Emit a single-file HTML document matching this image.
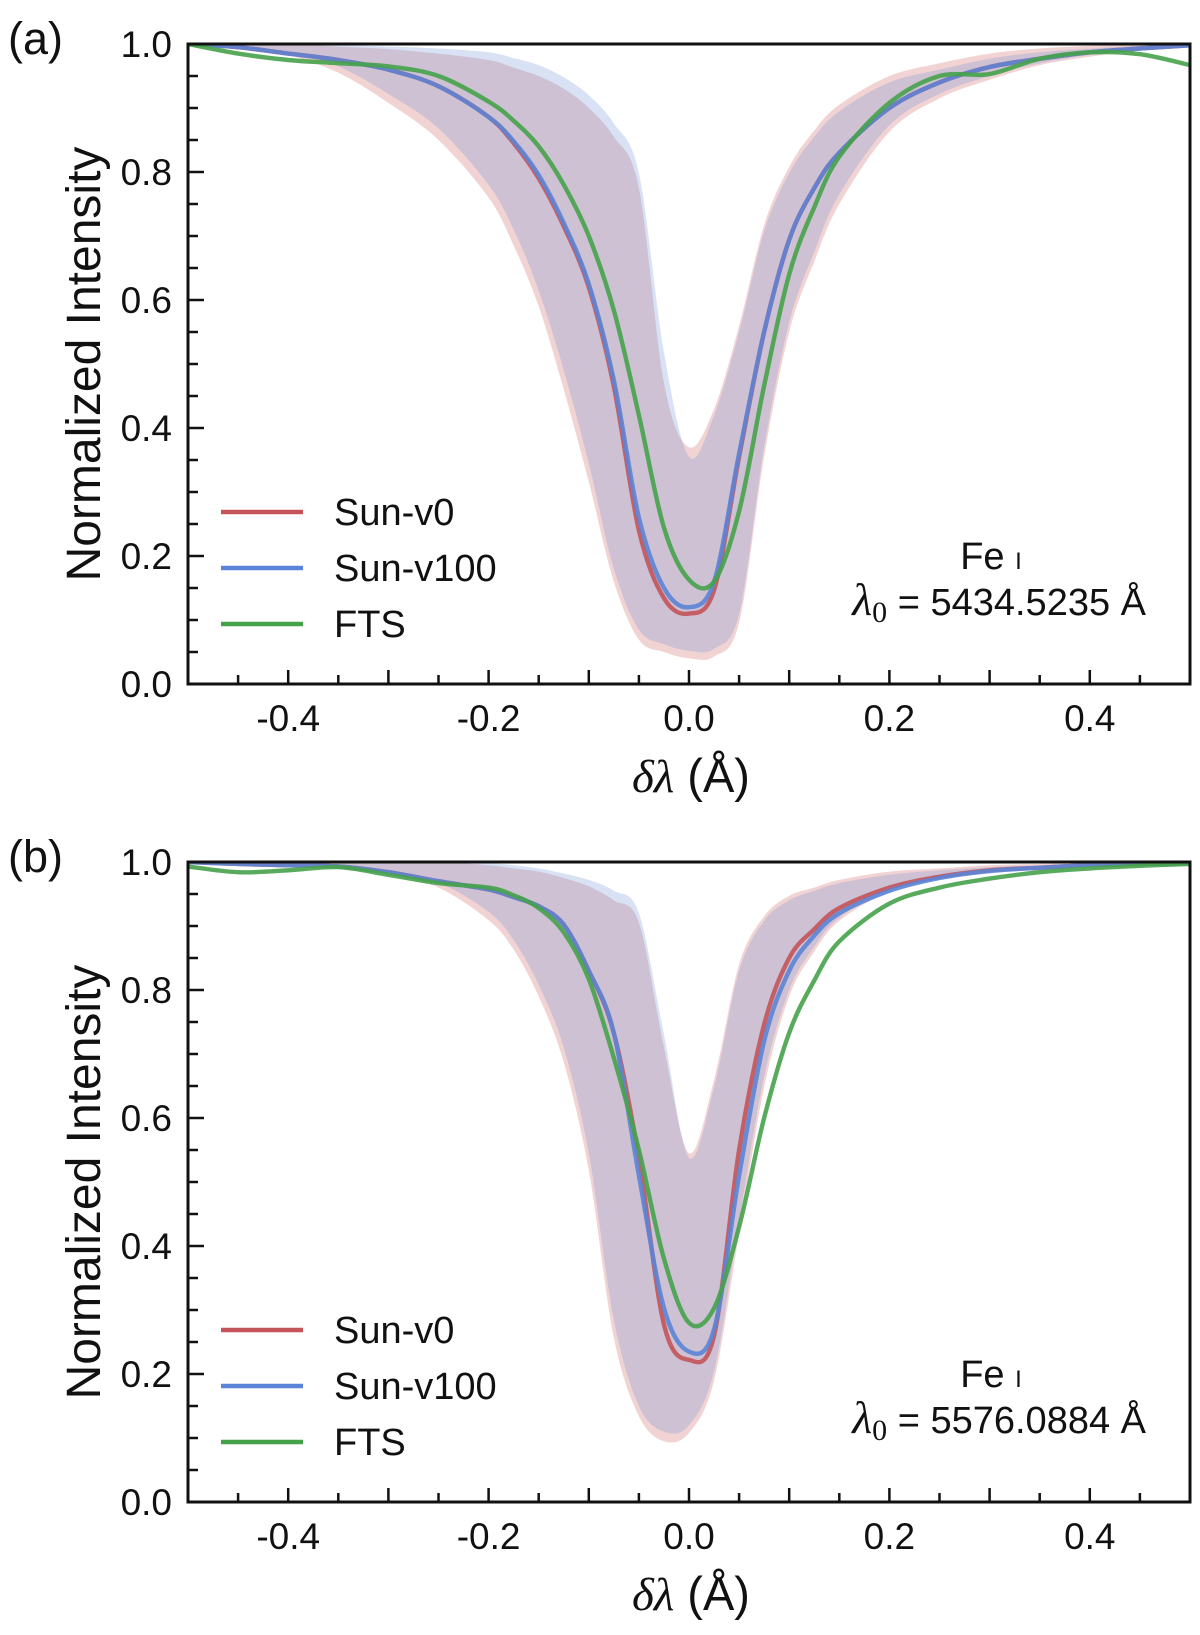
<!DOCTYPE html>
<html><head><meta charset="utf-8"><style>
body{margin:0;background:#fff}
svg{display:block;font-family:"Liberation Sans",sans-serif}
</style></head><body>
<svg id="fig" width="1200" height="1635" viewBox="0 0 1200 1635" xmlns="http://www.w3.org/2000/svg"></svg>
<script>
const xs=[-0.5,-0.45,-0.4,-0.35,-0.3,-0.25,-0.2,-0.175,-0.15,-0.125,-0.1,-0.075,-0.05,-0.025,0,0.025,0.05,0.075,0.1,0.125,0.15,0.2,0.25,0.3,0.35,0.4,0.45,0.5];
// Panel a
const aRed=[1,0.995,0.985,0.975,0.96,0.934,0.886,0.845,0.79,0.715,0.62,0.465,0.24,0.134,0.11,0.147,0.355,0.55,0.694,0.775,0.83,0.9,0.94,0.964,0.977,0.987,0.993,0.998];
const aBlue=[1,0.995,0.985,0.975,0.96,0.934,0.886,0.848,0.795,0.72,0.625,0.475,0.26,0.15,0.12,0.16,0.36,0.55,0.694,0.775,0.83,0.9,0.94,0.964,0.977,0.987,0.993,0.998];
const aFTS=[1,0.985,0.975,0.97,0.965,0.95,0.91,0.88,0.84,0.78,0.7,0.584,0.42,0.244,0.163,0.16,0.27,0.466,0.64,0.745,0.824,0.908,0.95,0.953,0.977,0.987,0.984,0.967];
const aPinkLow=[1,0.995,0.983,0.955,0.908,0.85,0.76,0.685,0.59,0.46,0.316,0.16,0.069,0.05,0.04,0.043,0.096,0.355,0.55,0.66,0.75,0.863,0.915,0.944,0.967,0.98,0.99,0.997];
const aPinkHigh=[1,1,1,0.996,0.992,0.985,0.975,0.963,0.95,0.93,0.9,0.855,0.775,0.47,0.37,0.43,0.56,0.717,0.808,0.865,0.905,0.95,0.97,0.985,0.993,0.997,1,1];
const aBlueLow=[1,0.997,0.988,0.965,0.922,0.868,0.78,0.71,0.615,0.49,0.345,0.18,0.085,0.062,0.052,0.055,0.11,0.37,0.565,0.675,0.765,0.873,0.922,0.95,0.97,0.983,0.992,0.998];
const aBlueHigh=[1,1,1,0.998,0.996,0.993,0.987,0.978,0.967,0.948,0.92,0.876,0.798,0.518,0.355,0.42,0.55,0.707,0.798,0.855,0.895,0.94,0.96,0.977,0.987,0.993,0.997,1];
// Panel b
const bRed=[1,0.997,0.995,0.993,0.984,0.97,0.957,0.945,0.931,0.902,0.83,0.733,0.537,0.277,0.222,0.26,0.55,0.746,0.85,0.895,0.928,0.96,0.977,0.987,0.991,0.995,0.997,0.998];
const bBlue=[1,0.997,0.995,0.993,0.984,0.97,0.957,0.945,0.931,0.902,0.83,0.733,0.51,0.303,0.235,0.27,0.51,0.72,0.83,0.885,0.92,0.955,0.975,0.986,0.991,0.995,0.997,0.998];
const bFTS=[0.993,0.984,0.987,0.992,0.98,0.967,0.96,0.948,0.928,0.89,0.817,0.694,0.55,0.38,0.28,0.303,0.43,0.6,0.733,0.815,0.876,0.935,0.96,0.974,0.984,0.99,0.994,0.997];
const bPinkLow=[1,0.998,0.995,0.99,0.98,0.96,0.909,0.863,0.79,0.687,0.518,0.257,0.134,0.095,0.108,0.19,0.42,0.648,0.79,0.86,0.908,0.954,0.974,0.985,0.99,0.995,0.997,1];
const bPinkHigh=[1,1,1,1,1,1,0.995,0.99,0.985,0.975,0.962,0.94,0.905,0.71,0.545,0.66,0.84,0.915,0.947,0.96,0.972,0.985,0.99,0.995,0.997,0.999,1,1];
const bBlueLow=[1,0.999,0.997,0.993,0.985,0.968,0.922,0.878,0.808,0.71,0.545,0.285,0.15,0.11,0.12,0.205,0.44,0.665,0.8,0.868,0.913,0.957,0.976,0.987,0.991,0.996,0.998,1];
const bBlueHigh=[1,1,1,1,1,1,0.998,0.995,0.99,0.982,0.972,0.955,0.92,0.73,0.538,0.648,0.83,0.908,0.94,0.955,0.967,0.98,0.987,0.992,0.995,0.998,1,1];
const xTicks=[-0.4,-0.2,0.0,0.2,0.4];
const yTicks=[0,0.2,0.4,0.6,0.8,1.0];

const NS="http://www.w3.org/2000/svg";
const svg=document.getElementById('fig');
function mk(tag,attrs,parent){const e=document.createElementNS(NS,tag);for(const k in attrs)e.setAttribute(k,attrs[k]);(parent||svg).appendChild(e);return e;}
const X0=188,X1=1190;
function sx(v){return X0+(v+0.5)*(X1-X0);}
function smoothPath(pts){let d='M'+pts[0][0].toFixed(1)+','+pts[0][1].toFixed(1);
 for(let i=0;i<pts.length-1;i++){const p0=pts[Math.max(0,i-1)],p1=pts[i],p2=pts[i+1],p3=pts[Math.min(pts.length-1,i+2)];
  const c1=[p1[0]+(p2[0]-p0[0])/6,p1[1]+(p2[1]-p0[1])/6],c2=[p2[0]-(p3[0]-p1[0])/6,p2[1]-(p3[1]-p1[1])/6];
  d+=`C${c1[0].toFixed(1)},${c1[1].toFixed(1)} ${c2[0].toFixed(1)},${c2[1].toFixed(1)} ${p2[0].toFixed(1)},${p2[1].toFixed(1)}`;}
 return d;}
function panel(tag,top,red,blue,fts,pl,ph,bl,bh,lam){
 const bot=top+640;const sy=v=>bot-v*(bot-top);
 const g=mk('g',{});
 
 
 mk('defs',{},g).innerHTML=`<clipPath id="clip${tag}"><rect x="${X0}" y="${top}" width="${X1-X0}" height="${bot-top}"/></clipPath>`;
 const pg=mk('g',{'clip-path':`url(#clip${tag})`},g);
 function band(lo,hi,col,name){const up=xs.map((x,i)=>[sx(x),sy(hi[i])]);const dn=xs.map((x,i)=>[sx(x),sy(lo[i])]).reverse();
  const d=smoothPath(up)+smoothPath(dn).replace('M','L')+'Z';
  const p=mk('path',{d:d,fill:col,'fill-opacity':0.25},pg);
  
  }
 band(pl,ph,'rgb(200,80,80)','sun-v0-range-'+tag);
 band(bl,bh,'rgb(100,140,210)','sun-v100-range-'+tag);
 function line(vals,col,name){const p=mk('path',{d:smoothPath(xs.map((x,i)=>[sx(x),sy(vals[i])])),fill:'none',stroke:col,'stroke-width':4.4,'stroke-opacity':0.9,'stroke-linejoin':'round'},pg);
  
  }
 line(red,'#c4545a','sun-v0-line-'+tag);
 line(blue,'#5b84d6','sun-v100-line-'+tag);
 line(fts,'#46a24a','fts-line-'+tag);
 const fr=mk('rect',{x:X0,y:top,width:X1-X0,height:bot-top,fill:'none',stroke:'#111','stroke-width':3},g);
 
 
 for(let k=-10;k<=10;k++){const x=sx(k*0.05);const len=(k%2===0)?14:9;
  mk('line',{x1:x,y1:bot,x2:x,y2:bot-len,stroke:'#111','stroke-width':2.5},g);}
 for(let k=0;k<=20;k++){const y=sy(k*0.05);const len=(k%4===0)?16:10;mk('line',{x1:X0,y1:y,x2:X0+len,y2:y,stroke:'#111','stroke-width':2.5},g);}
 xTicks.forEach(v=>{const t=mk('text',{x:sx(v),y:bot+47,'font-size':37,'text-anchor':'middle',fill:'#111'},g);t.textContent=v.toFixed(1);
  
  });
 yTicks.forEach(v=>{const t=mk('text',{x:172,y:sy(v)+13,'font-size':37,'text-anchor':'end',fill:'#111'},g);t.textContent=v.toFixed(1);
  
  });
 const yl=mk('text',{x:0,y:0,'font-size':48,'text-anchor':'middle',fill:'#111',transform:`translate(100,${(top+bot)/2}) rotate(-90)`},g);yl.textContent='Normalized Intensity';
 
 
 const xl=mk('text',{x:sx(0)+2,y:bot+108,'font-size':47,'text-anchor':'middle',fill:'#111'},g);
 xl.innerHTML='<tspan font-family="Liberation Serif,serif" font-style="italic">δλ</tspan> (Å)';
 
 
 const pl_=mk('text',{x:8,y:top+10,'font-size':45,fill:'#111'},g);pl_.textContent='('+tag+')';
 
 
 [['Sun-v0','#c4545a'],['Sun-v100','#5b84d6'],['FTS','#46a24a']].forEach((e,i)=>{const y=top+468+i*56;
  const lg=mk('g',{},g);
  
  
  mk('line',{x1:221,y1:y,x2:303,y2:y,stroke:e[1],'stroke-width':4.5},lg);
  const t=mk('text',{x:334,y:y+13,'font-size':38,fill:'#111'},lg);t.textContent=e[0];});
 const fe=mk('text',{x:991,y:top+525,'font-size':38,'text-anchor':'middle',fill:'#111'},g);fe.innerHTML='Fe <tspan font-size="24">I</tspan>';
 
 
 const lm=mk('text',{x:1146,y:top+571,'font-size':38,'text-anchor':'end',fill:'#111'},g);
 lm.innerHTML='<tspan font-family="Liberation Serif,serif" font-style="italic" font-size="46">λ</tspan><tspan font-family="Liberation Serif,serif" font-size="30" dy="7">0</tspan><tspan dy="-7"> = '+lam+' Å</tspan>';
 
 
}
panel('a',44,aRed,aBlue,aFTS,aPinkLow,aPinkHigh,aBlueLow,aBlueHigh,'5434.5235');
panel('b',862,bRed,bBlue,bFTS,bPinkLow,bPinkHigh,bBlueLow,bBlueHigh,'5576.0884');
</script>
</body></html>
